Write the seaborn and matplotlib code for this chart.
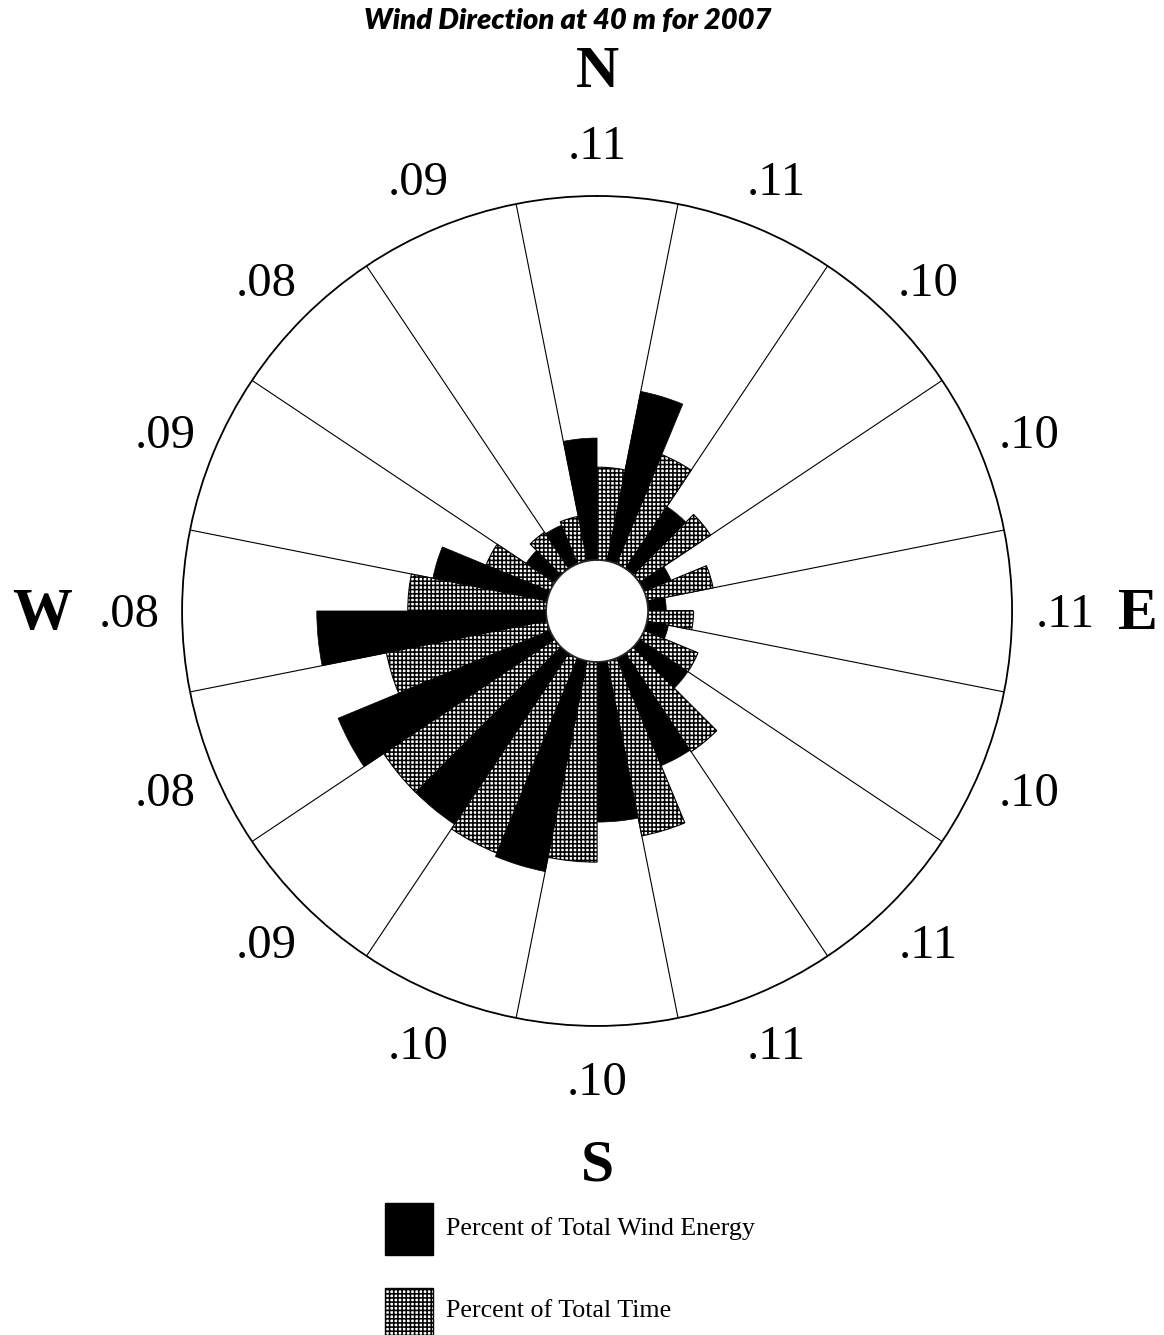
import numpy as np
import pandas as pd
import matplotlib
matplotlib.use("Agg")
import matplotlib.pyplot as plt
from matplotlib.patches import Rectangle
from matplotlib.transforms import ScaledTranslation
import seaborn as sns

# Wind rose values (percent)
directions = ["N", "NNE", "NE", "ENE", "E", "ESE", "SE", "SSE",
              "S", "SSW", "SW", "WSW", "W", "WNW", "NW", "NNW"]
energy_pct = [6.7, 9.5, 4.1, 1.6, 1.0, 1.2, 3.2, 6.4,
              8.8, 11.8, 11.3, 12.6, 12.6, 6.4, 1.9, 2.3]
time_pct = [5.1, 6.5, 4.7, 3.7, 2.5, 3.2, 6.5, 9.8,
            11.0, 11.6, 11.3, 9.0, 7.6, 3.8, 2.4, 2.5]
outer_labels = [".11", ".11", ".10", ".10", ".11", ".10", ".11", ".11",
                ".10", ".10", ".09", ".08", ".08", ".09", ".08", ".09"]
compass_names = ["N", "E", "S", "W"]
compass_deg = [0, 90, 180, 270]
compass_r = [27.0, 26.9, 27.5, 27.7]
series = ["Percent of Total Wind Energy", "Percent of Total Time"]

r_max = 20
n = len(directions)
sector = 360 / n
dir_deg = np.arange(n) * sector

# energy bar on the left half of each sector, time bar on the right half
df = pd.DataFrame({
    "theta": np.concatenate([np.deg2rad((dir_deg - sector / 4) % 360),
                             np.deg2rad(dir_deg + sector / 4)]),
    "pct": energy_pct + time_pct,
    "series": [series[0]] * n + [series[1]] * n,
})

sns.set_theme(style="white")
plt.rcParams["hatch.linewidth"] = 1.15
plt.rcParams["hatch.color"] = "black"
plt.rcParams["text.color"] = "black"
serif = ["Liberation Serif", "DejaVu Serif"]
hatch = "++++"

fig = plt.figure(figsize=(11.64, 13.35), dpi=100)
ax = fig.add_axes([0.1564, 0.2315, 0.7131, 0.6217], projection="polar")
ax.set_theta_zero_location("N")
ax.set_theta_direction(-1)

# sector boundary lines
for d in dir_deg:
    th = np.deg2rad(d + sector / 2)
    ax.plot([th, th], [0, r_max], color="black", lw=0.8, zorder=0.5)

sns.barplot(data=df, x="theta", y="pct", hue="series", hue_order=series,
            palette=["black", "white"], native_scale=True, width=1,
            errorbar=None, saturation=1, legend=False, ax=ax)

for bar in ax.containers[0]:
    bar.set_edgecolor("black")
    bar.set_linewidth(0.5)
for bar in ax.containers[1]:
    bar.set_hatch(hatch)
    bar.set_edgecolor("black")
    bar.set_linewidth(0.8)

ax.set_ylim(0, r_max)
ax.set_rorigin(-2.8)
ax.grid(False)
ax.set_xticks([])
ax.set_yticks([])
ax.set_xlabel("")
ax.set_ylabel("")
ax.spines["polar"].set_color("black")
ax.spines["polar"].set_linewidth(1.3)
ax.spines["inner"].set_visible(False)

shift = ax.transData + ScaledTranslation(0, -0.04, fig.dpi_scale_trans)
for d, lab in zip(dir_deg, outer_labels):
    ax.text(np.deg2rad(d), 22.9, lab, ha="center", va="center",
            fontsize=35, family=serif, transform=shift)
for name, d, r in zip(compass_names, compass_deg, compass_r):
    ax.text(np.deg2rad(d), r, name, ha="center", va="center",
            fontsize=43, fontweight="bold", family=serif, transform=shift)

fig.text(0.488, 0.9843, "Wind Direction at 40 m for 2007", ha="center", va="center",
         fontsize=21, fontweight="heavy", fontstyle="italic", family=["Lato", "DejaVu Sans"])

# legend drawn by hand below the rose
fig.add_artist(Rectangle((0.3308, 0.0599), 0.0412, 0.039, transform=fig.transFigure,
                         facecolor="black", edgecolor="black", lw=1))
fig.add_artist(Rectangle((0.3308, -0.01), 0.0412, 0.0452, transform=fig.transFigure,
                         facecolor="white", edgecolor="black", hatch=hatch, lw=1))
fig.text(0.3832, 0.0801, series[0], ha="left", va="center", fontsize=18.7, family=serif)
fig.text(0.3832, 0.0180, series[1], ha="left", va="center", fontsize=18.7, family=serif)

fig.savefig("out.png", dpi=100)
